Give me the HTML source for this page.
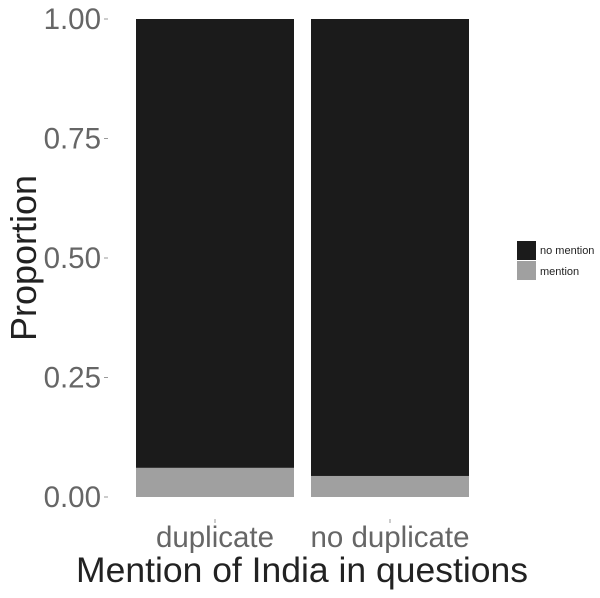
<!DOCTYPE html>
<html><head><meta charset="utf-8"><style>
body{margin:0;background:#fff;font-family:"Liberation Sans",sans-serif}
</style></head><body>
<svg id="chart" width="600" height="593" xmlns="http://www.w3.org/2000/svg" font-family="Liberation Sans, sans-serif">
<g id="bars"></g><g id="axes"></g>
<text transform="translate(36,258) rotate(-90)" text-anchor="middle" font-size="36" fill="#222">Proportion</text>
<text x="302" y="582" text-anchor="middle" font-size="35.5" fill="#222">Mention of India in questions</text>
<g>
<rect x="517" y="241" width="19" height="19" fill="#1b1b1b"/>
<rect x="517" y="261" width="19" height="19" fill="#a0a0a0"/>
<text x="540" y="254" font-size="11" fill="#222">no mention</text>
<text x="540" y="275" font-size="11" fill="#222">mention</text>
</g>
</svg>
<script>
const categories=["duplicate","no duplicate"];
const mentionValues=[0.061,0.044];
const noMentionValues=[0.939,0.956];
const yTicks=[0,0.25,0.5,0.75,1];
const yTickLabels=["0.00","0.25","0.50","0.75","1.00"];
const ns="http://www.w3.org/2000/svg";
const y=v=>497-v*478;
const xStart=i=>136+i*175;
const bw=158;
const bars=document.getElementById('bars'),axes=document.getElementById('axes');
function mk(t,a,p){const e=document.createElementNS(ns,t);for(const k in a)e.setAttribute(k,a[k]);p.appendChild(e);return e;}
categories.forEach((c,i)=>{
  const m=mk('rect',{x:xStart(i),y:y(mentionValues[i]),width:bw,height:y(0)-y(mentionValues[i]),fill:'#a0a0a0'},bars);
  
  
  const top=mentionValues[i]+noMentionValues[i];
  const n=mk('rect',{x:xStart(i),y:y(top),width:bw,height:y(mentionValues[i])-y(top),fill:'#1b1b1b'},bars);
  
  
  const t=mk('text',{x:xStart(i)+bw/2,y:547,'text-anchor':'middle','font-size':29.5,fill:'#666'},axes);
  t.textContent=c;
  
  
  const tk=mk('line',{x1:xStart(i)+bw/2,x2:xStart(i)+bw/2,y1:519,y2:523,stroke:'#999'},axes);
  
  
});
yTicks.forEach((v,i)=>{
  const t=mk('text',{x:101,y:y(v)+10,'text-anchor':'end','font-size':29.5,fill:'#666'},axes);
  t.textContent=yTickLabels[i];
  
  
  const l=mk('line',{x1:104,x2:108,y1:y(v),y2:y(v),stroke:'#999'},axes);
  
  
});
</script>
</body></html>
